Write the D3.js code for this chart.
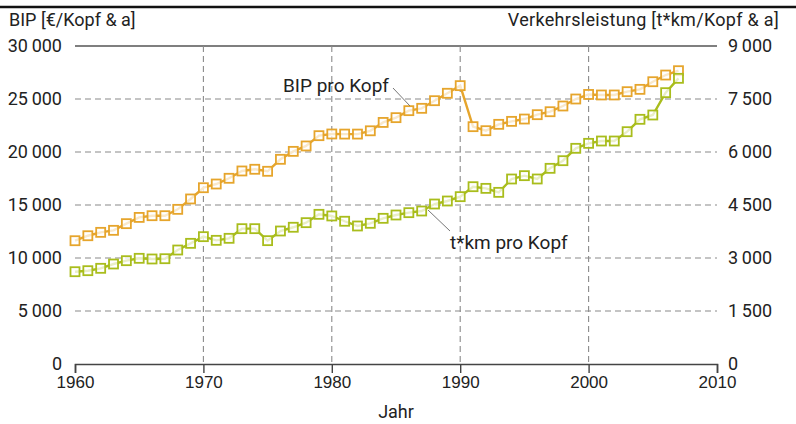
<!DOCTYPE html>
<html>
<head>
<meta charset="utf-8">
<script src="https://cdn.jsdelivr.net/npm/d3@7"></script>
<style>
  body { margin: 0; background: #fff; }
  text { font-family: Roboto, "DejaVu Sans Condensed", sans-serif; fill: #222; }
</style>
</head>
<body>
<script>
// Jahre 1960 - 2007
var years = d3.range(1960, 2008);

var bip = [11630, 12100, 12420, 12610, 13240, 13830, 13990, 13990, 14590, 15570,
  16630, 16980, 17520, 18210, 18370, 18180, 19310, 20060, 20570, 21540,
  21700, 21690, 21690, 22000, 22790, 23240, 23900, 24120, 24840, 25540,
  26260, 22390, 22010, 22610, 22890, 23110, 23520, 23800, 24340, 25000,
  25430, 25380, 25380, 25690, 25910, 26630, 27260, 27670];

var tkm = [2612, 2641, 2708, 2830, 2924, 2991, 2972, 2980, 3226, 3415,
  3604, 3500, 3557, 3830, 3830, 3491, 3764, 3870, 4000, 4236,
  4190, 4040, 3906, 3982, 4123, 4217, 4283, 4330, 4528, 4613,
  4736, 5018, 4971, 4858, 5236, 5330, 5236, 5538, 5754, 6104,
  6245, 6311, 6311, 6575, 6925, 7047, 7679, 8085];

var leftTicks = [0, 5000, 10000, 15000, 20000, 25000, 30000];
var rightTicks = [0, 1500, 3000, 4500, 6000, 7500, 9000];
var xTicks = [1960, 1970, 1980, 1990, 2000, 2010];

var w = 796, h = 424;
var x0 = 75, x1 = 717, yTop = 46, yBot = 364;

var svg = d3.select("body").append("svg").attr("width", w).attr("height", h);

var x = d3.scaleLinear().domain([1960, 2010]).range([x0, x1]);
var yl = d3.scaleLinear().domain([0, 30000]).range([yBot, yTop]);
var yr = d3.scaleLinear().domain([0, 9000]).range([yBot, yTop]);

var fmt = function(v) {
  var s = String(v);
  if (s.length > 3) s = s.slice(0, s.length - 3) + "\u2009" + s.slice(-3);
  return s;
};

// top rule
svg.append("line").attr("x1", 0).attr("x2", w).attr("y1", 7).attr("y2", 7)
  .attr("stroke", "#111").attr("stroke-width", 2.5);

// horizontal grid
svg.append("g").selectAll("line").data(leftTicks.filter(function(d){ return d > 0; })).enter()
  .append("line")
  .attr("x1", x0).attr("x2", x1)
  .attr("y1", function(d){ return yl(d); }).attr("y2", function(d){ return yl(d); })
  .attr("stroke", function(d){ return d === 30000 ? "#555" : "#8a8a8a"; })
  .attr("stroke-width", function(d){ return d === 30000 ? 1.3 : 1.1; })
  .attr("stroke-dasharray", function(d){ return d === 30000 ? null : "6,4"; });

// vertical grid
svg.append("g").selectAll("line").data(xTicks.slice(1, -1)).enter()
  .append("line")
  .attr("x1", function(d){ return x(d); }).attr("x2", function(d){ return x(d); })
  .attr("y1", yTop).attr("y2", yBot)
  .attr("stroke", "#8a8a8a").attr("stroke-width", 1.1).attr("stroke-dasharray", "6,4");

// x axis
var xAxis = svg.append("g").attr("transform", "translate(0," + yBot + ")")
  .call(d3.axisBottom(x).tickValues(xTicks).tickFormat(d3.format("d")).tickSize(9).tickPadding(3));
xAxis.select(".domain").attr("stroke", "#444").attr("stroke-width", 1.6);
xAxis.selectAll(".tick line").attr("stroke", "#444").attr("stroke-width", 1.4);
xAxis.selectAll("text").attr("font-size", 17).style("font-family", "inherit").attr("fill", "#222");

// left labels
svg.append("g").selectAll("text").data(leftTicks).enter().append("text")
  .attr("x", 62).attr("y", function(d){ return yl(d) + 6; })
  .attr("text-anchor", "end").attr("font-size", 18)
  .text(fmt);

// right labels
svg.append("g").selectAll("text").data(rightTicks).enter().append("text")
  .attr("x", 728).attr("y", function(d){ return yr(d) + 6; })
  .attr("text-anchor", "start").attr("font-size", 18)
  .text(fmt);

svg.append("text").attr("x", 9).attr("y", 26).attr("font-size", 18).text("BIP [\u20ac/Kopf & a]");
svg.append("text").attr("x", 779).attr("y", 26).attr("font-size", 18).attr("text-anchor", "end")
  .attr("letter-spacing", 0.3)
  .text("Verkehrsleistung [t*km/Kopf & a]");
svg.append("text").attr("x", x(1985)).attr("y", 418).attr("font-size", 18).attr("text-anchor", "middle").text("Jahr");

// series
function drawSeries(vals, ys, col) {
  var pts = years.map(function(yr_, i){ return [yr_, vals[i]]; });
  var line = d3.line().x(function(d){ return x(d[0]); }).y(function(d){ return ys(d[1]); });
  svg.append("path").datum(pts).attr("d", line)
    .attr("fill", "none").attr("stroke", col).attr("stroke-width", 2.4);
  svg.append("g").selectAll("rect").data(pts).enter().append("rect")
    .attr("x", function(d){ return x(d[0]) - 4.5; })
    .attr("y", function(d){ return ys(d[1]) - 4.5; })
    .attr("width", 9).attr("height", 9)
    .attr("fill", "#fff").attr("fill-opacity", 0.75)
    .attr("stroke", col).attr("stroke-width", 1.8);
}
drawSeries(bip, yl, "#e6a52c");
drawSeries(tkm, yr, "#a9bd1c");

// annotations
svg.append("line").attr("x1", 393).attr("y1", 88).attr("x2", 410).attr("y2", 106)
  .attr("stroke", "#777").attr("stroke-width", 1);
svg.append("text").attr("x", 283).attr("y", 92).attr("font-size", 19).text("BIP pro Kopf");

svg.append("line").attr("x1", 428).attr("y1", 210).attr("x2", 450).attr("y2", 231)
  .attr("stroke", "#777").attr("stroke-width", 1);
svg.append("text").attr("x", 450).attr("y", 249).attr("font-size", 19).text("t*km pro Kopf");
</script>
</body>
</html>
